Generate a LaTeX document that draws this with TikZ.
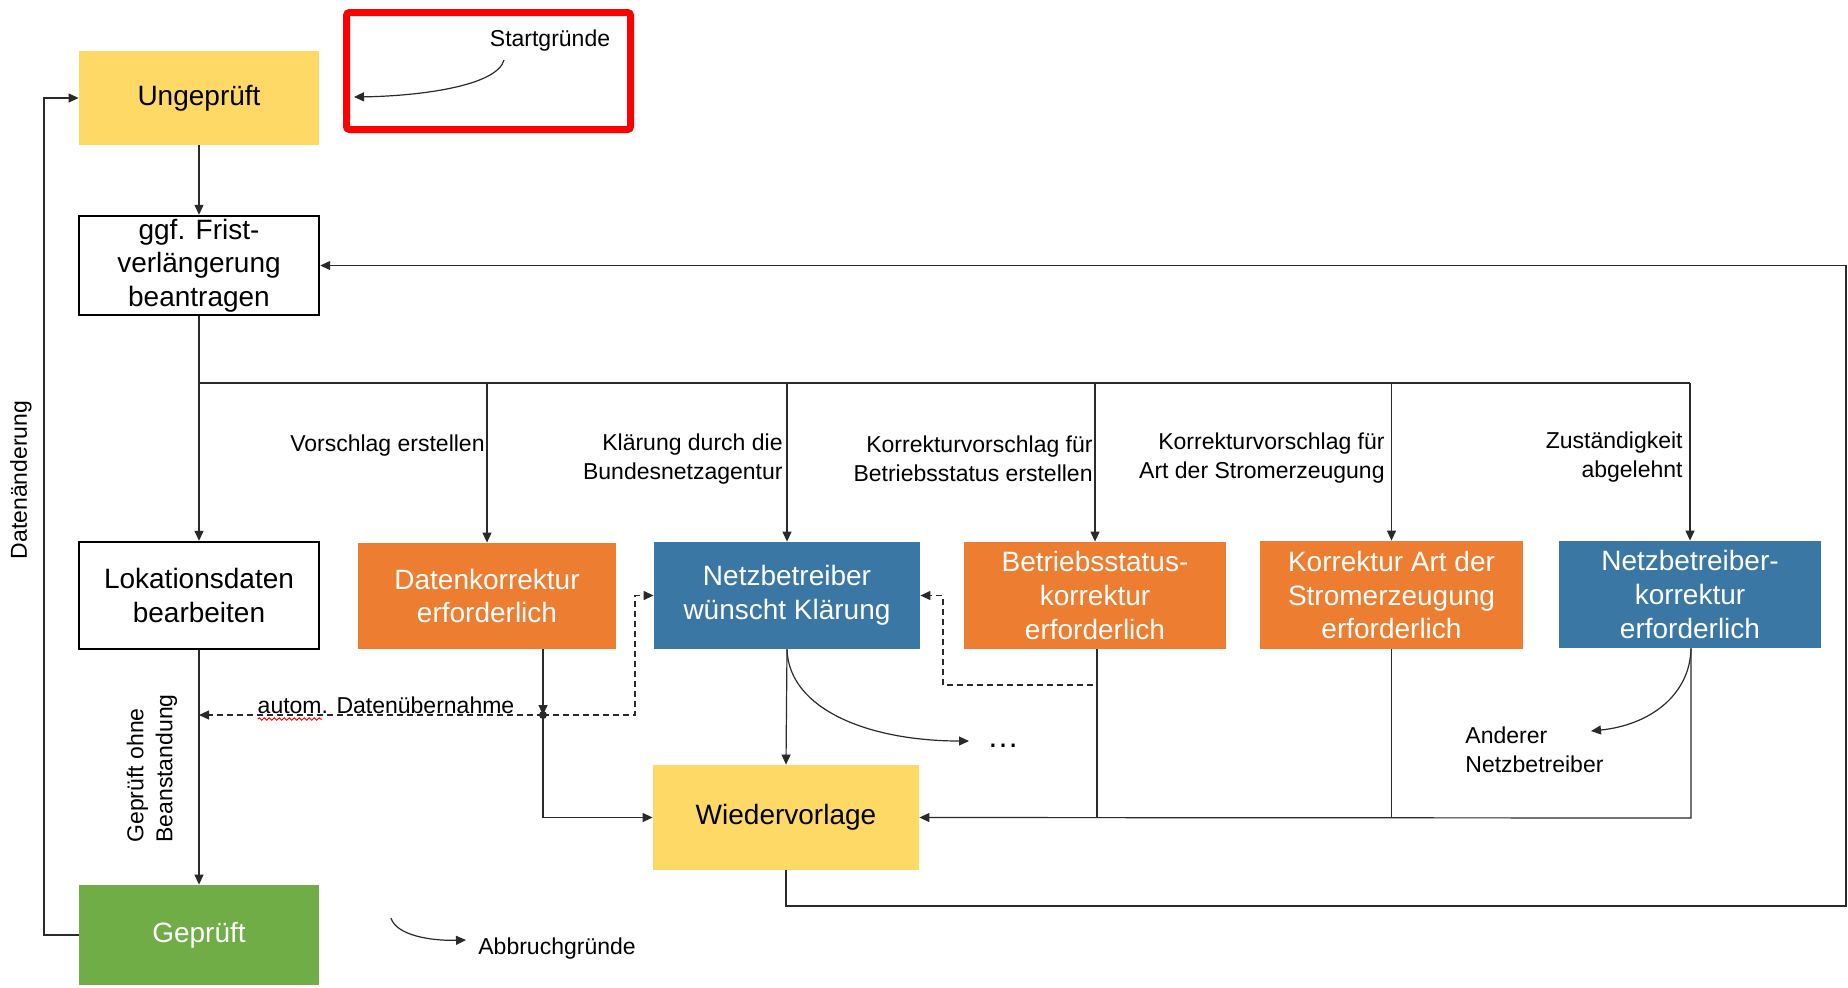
\documentclass[tikz,border=0pt]{standalone}
\usepackage{fontspec}
\setmainfont{Liberation Sans}
\usetikzlibrary{arrows.meta,decorations.pathmorphing}
\definecolor{gelb}{HTML}{FFD966}
\definecolor{orng}{HTML}{ED7D31}
\definecolor{blau}{HTML}{3A77A5}
\definecolor{gruen}{HTML}{70AD47}
\definecolor{linie}{HTML}{2A2A2A}
\definecolor{rot}{HTML}{FF0000}
\begin{document}
\begin{tikzpicture}[x=0.5pt,y=-0.5pt,
  box/.style={inner sep=1pt, align=center, font=\fontsize{14}{16.8}\selectfont},
  yellowbox/.style={box, fill=gelb, text=black},
  whitebox/.style={box, draw=black, line width=1.2pt, fill=white, text=black},
  orangebox/.style={box, fill=orng, text=white},
  bluebox/.style={box, fill=blau, text=white},
  greenbox/.style={box, fill=gruen, text=white},
  lbl/.style={inner sep=0pt, font=\fontsize{11.5}{14.5}\selectfont},
  conn/.style={draw=linie, line width=0.6pt},
  arr/.style={-{Triangle[length=5pt,width=4.5pt]}},
  dsh/.style={dash pattern=on 3pt off 2pt}
]
\useasboundingbox (0,0) rectangle (1848,987);

% nodes
\node[yellowbox, minimum width=120pt, minimum height=47pt] (ug) at (199,98) {\raisebox{-1.2pt}{Ungeprüft}};
\node[whitebox, minimum width=120pt, minimum height=49.5pt] (fr) at (199,265.5) {ggf. Frist-\\verlängerung\\beantragen};
\node[whitebox, minimum width=120pt, minimum height=53.5pt] (lk) at (199,595.5) {Lokationsdaten\\bearbeiten};
\node[greenbox, minimum width=120pt, minimum height=50pt] (gp) at (199,935) {\raisebox{-1.2pt}{Geprüft}};
\node[orangebox, minimum width=129pt, minimum height=53pt] (dk) at (487,596) {Datenkorrektur\\erforderlich};
\node[bluebox, minimum width=133pt, minimum height=53.5pt] (nb) at (787,595.5) {Netzbetreiber\\wünscht Klärung};
\node[orangebox, minimum width=131pt, minimum height=53.5pt] (bs) at (1095,595.5) {Betriebsstatus-\\korrektur\\erforderlich};
\node[orangebox, minimum width=131.5pt, minimum height=54pt] (ka) at (1391.5,595) {Korrektur Art der\\Stromerzeugung\\erforderlich};
\node[bluebox, minimum width=131pt, minimum height=53.5pt] (nk) at (1690,594.5) {Netzbetreiber-\\korrektur\\erforderlich};
\node[yellowbox, minimum width=133pt, minimum height=52.5pt] (wv) at (786,817.5) {\raisebox{-1.2pt}{Wiedervorlage}};

% red frame
\node[draw=rot, line width=3.5pt, rounded corners=1.5pt, minimum width=142pt, minimum height=58.5pt, inner sep=0pt] (rf) at (488.5,71) {};
\node[lbl] (sg) at (550,41) {Startgründe};
\coordinate (sgend) at (354,97);
\draw[conn,arr] (504,60) .. controls (497,86) and (420,96) .. (sgend);

% labels
\node[lbl, anchor=east, align=right] (l1) at (485,446) {Vorschlag erstellen};
\node[lbl, anchor=east, align=right] (l2) at (783,459) {Klärung durch die\\Bundesnetzagentur};
\node[lbl, anchor=east, align=right] (l3) at (1093,458.5) {Korrekturvorschlag für\\Betriebsstatus erstellen};
\node[lbl, anchor=east, align=right] (l4) at (1385,458.5) {Korrekturvorschlag für\\Art der Stromerzeugung};
\node[lbl, anchor=east, align=right] (l5) at (1683,457.5) {Zuständigkeit\\abgelehnt};
\node[lbl, rotate=90] (dae) at (21,480) {Datenänderung};
\node[lbl, rotate=90, anchor=west, align=left] (gob) at (152,843) {Geprüft ohne\\Beanstandung};
\node[lbl, anchor=south] (adu) at (386,714) {autom. Datenübernahme};
\draw[rot, line width=0.5pt, decorate, decoration={zigzag, amplitude=0.6pt, segment length=2.5pt}] (258,719) -- (322,719);
\node[lbl, anchor=west, align=left] (an) at (1465,750) {Anderer\\Netzbetreiber};
\node[lbl, anchor=west] (ab) at (478,949) {Abbruchgründe};
\node[lbl, font=\fontsize{16}{18}\selectfont] (dots) at (1003,746) {…};

% main flow
\draw[conn,arr] (ug.south) -- (fr.north);
\coordinate (b0) at (199,383);
\draw[conn,arr] (fr.south) -- (lk.north);
\draw[draw=linie, line width=1.3pt] (b0) -- (ka.north |- b0);
\draw[conn] (ka.north |- b0) -- (nk.north |- b0);
\draw[conn,arr] (dk.north |- b0) -- (dk.north);
\draw[conn,arr] (nb.north |- b0) -- (nb.north);
\draw[conn,arr] (bs.north |- b0) -- (bs.north);
\draw[conn,arr] (ka.north |- b0) -- (ka.north);
\draw[conn,arr] (nk.north |- b0) -- (nk.north);

% Lokationsdaten -> Geprueft
\coordinate (jl) at (199,715);
\draw[conn,arr] (lk.south) -- (gp.north);

% Datenaenderung loop
\coordinate (ll) at (44,935);
\draw[conn,arr] (gp.west) -- (ll) |- (ug.west);

% Datenkorrektur
\coordinate (j) at (543,715);
\coordinate (dr) at (635,715);
\draw[conn,arr] (dk.south -| j) -- (j);
\draw[conn,arr] (j) |- (wv.west);
\fill[linie] (j) circle (2pt);
\draw[conn,dsh,arr] (j) -- (jl);
\draw[conn,dsh,arr] (j) -- (dr) |- (nb.west);

% Netzbetreiber wuenscht Klaerung
\draw[conn,arr] (nb.south) -- (wv.north);
\coordinate (dotsin) at (969,741);
\draw[conn,arr] (nb.south) .. controls (789,710) and (870,741) .. (dotsin);

% Betriebsstatus dashed
\coordinate (bd) at (1097,685);
\coordinate (bl) at (943,685);
\draw[conn,dsh,arr] (bs.south -| bd) -- (bd) -- (bl) |- (nb.east);

% bottom collector
\coordinate (cr) at (1691,818);
\draw[conn,arr] (nk.south -| cr) -- (cr) -- (wv.east);
\draw[conn] (ka.south) -- (ka.south |- cr);
\draw[conn] (bs.south -| bd) -- (bd |- cr);

% Netzbetreiber-korrektur curve
\coordinate (anin) at (1591,731);
\draw[conn,arr] (nk.south -| cr) .. controls (1690,695) and (1650,725) .. (anin);

% return line
\coordinate (rr) at (1846,906);
\draw[conn,arr] (wv.south) |- (rr) |- (fr.east);

% Abbruchgruende
\coordinate (abin) at (466,940);
\draw[conn,arr] (391,918) .. controls (396,935) and (430,941) .. (abin);
\end{tikzpicture}
\end{document}
